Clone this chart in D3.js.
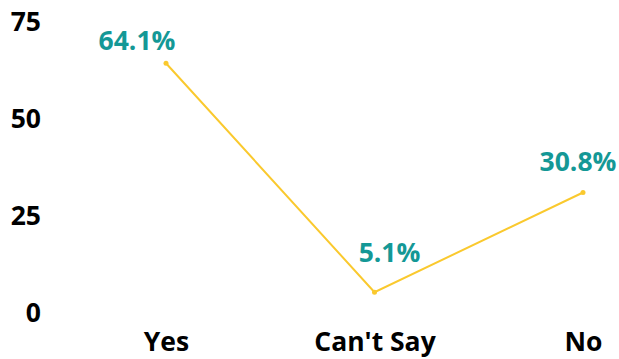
<!DOCTYPE html>
<html>
<head>
<meta charset="utf-8">
<script src="https://cdn.jsdelivr.net/npm/d3@7"></script>
<style>
  html, body { margin: 0; padding: 0; background: #fff; }
  svg { display: block; font-family: "Open Sans", sans-serif; }
</style>
</head>
<body>
<svg id="chart" width="619" height="359"></svg>
<script>
// Survey answers and their shares (%)
const categories = ["Yes", "Can't Say", "No"];
const values = [64.1, 5.1, 30.8];
const valueLabels = ["64.1%", "5.1%", "30.8%"];
const yTicks = [0, 25, 50, 75];

const svg = d3.select("#chart");

const x = d3.scalePoint()
  .domain(categories)
  .range([166, 583]);

const y = d3.scaleLinear()
  .domain([0, 75])
  .range([312, 21]);

// y-axis tick labels (no domain line, no tick marks)
const yAxis = d3.axisLeft(y).tickValues(yTicks).tickSize(0).tickPadding(0);
const gy = svg.append("g").attr("transform", "translate(41,0)").call(yAxis);
gy.select(".domain").remove();
gy.selectAll("text")
  .attr("font-family", "'Open Sans', sans-serif")
  .attr("font-size", 26.5)
  .attr("font-weight", 700)
  .attr("fill", "#000")
  .attr("dy", "0.35em");

// x-axis category labels
const xAxis = d3.axisBottom(x).tickSize(0).tickPadding(0);
const gx = svg.append("g").attr("transform", "translate(0,351)").call(xAxis);
gx.select(".domain").remove();
gx.selectAll("text")
  .attr("font-family", "'Open Sans', sans-serif")
  .attr("font-size", 26.5)
  .attr("font-weight", 700)
  .attr("fill", "#000")
  .attr("dy", 0);

// line
const line = d3.line()
  .x((d, i) => x(categories[i]))
  .y(d => y(d));

svg.append("path")
  .datum(values)
  .attr("d", line)
  .attr("fill", "none")
  .attr("stroke", "#fac92e")
  .attr("stroke-width", 2);

svg.selectAll("circle.pt")
  .data(values)
  .join("circle")
  .attr("class", "pt")
  .attr("cx", (d, i) => x(categories[i]))
  .attr("cy", d => y(d))
  .attr("r", 2.5)
  .attr("fill", "#fac92e");

// value labels, nudged off the line
const nudge = [[-29, -13], [15, -30], [-5, -21]];
svg.selectAll("text.val")
  .data(values)
  .join("text")
  .attr("class", "val")
  .attr("x", (d, i) => x(categories[i]) + nudge[i][0])
  .attr("y", d => y(d))
  .attr("dy", (d, i) => nudge[i][1])
  .attr("text-anchor", "middle")
  .attr("font-size", 26.5)
  .attr("font-weight", 700)
  .attr("fill", "#149896")
  .text((d, i) => valueLabels[i]);
</script>
</body>
</html>
